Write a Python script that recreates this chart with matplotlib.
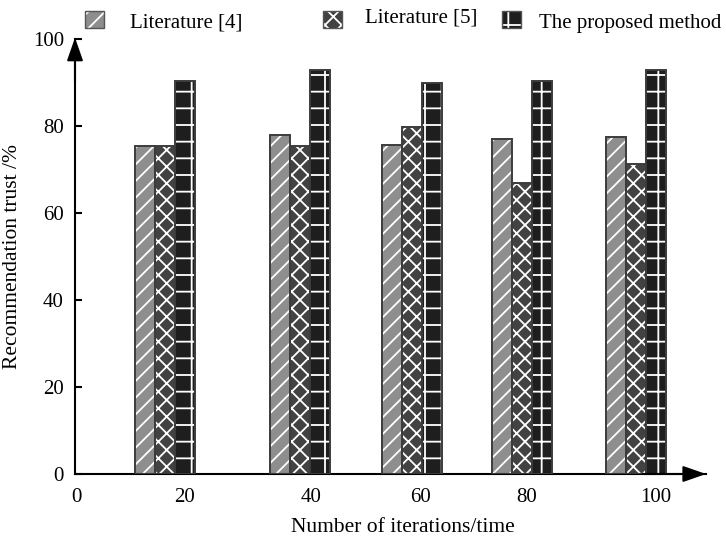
import matplotlib
matplotlib.use("Agg")
import matplotlib.pyplot as plt
from matplotlib.patches import Rectangle

plt.rcParams['font.family'] = ['Liberation Serif', 'DejaVu Serif']
plt.rcParams['hatch.color'] = 'white'
plt.rcParams['hatch.linewidth'] = 1.3

# ---- data ----
iterations = [20, 40, 60, 80, 100]
series_names = ['Literature [4]', 'Literature [5]', 'The proposed method']
lit4 = [75.5, 78.0, 75.6, 76.9, 77.5]
lit5 = [75.5, 75.5, 79.8, 67.0, 71.3]
proposed = [90.4, 92.9, 89.8, 90.3, 92.9]
x_tick_labels = ['0', '20', '40', '60', '80', '100']
y_ticks = [0, 20, 40, 60, 80, 100]

# ---- layout (axis units) ----
group_centers = [15.5, 38.7, 58.0, 76.9, 96.6]
x_tick_pos = [0.2, 18.8, 40.6, 59.4, 77.8, 100]
bar_w = 3.44
face_colors = ['#8e8e8e', '#424242', '#1e1e1e']
hatches = ['//', 'xx', '+']
edge_color = '#3c3c3c'

W, H = 726, 538
fig = plt.figure(figsize=(W / 100, H / 100), dpi=100)
ax = fig.add_axes([75 / W, 64 / H, 631 / W, 435 / H])

series = [lit4, lit5, proposed]
offsets = [-bar_w, 0, bar_w]
for vals, off, fc, h in zip(series, offsets, face_colors, hatches):
    xs = [c + off for c in group_centers]
    ax.bar(xs, vals, width=bar_w, color=fc, hatch=h, linewidth=0, zorder=2)
    ax.bar(xs, vals, width=bar_w, fill=False, edgecolor=edge_color, linewidth=1.4, zorder=3)

ax.set_xlim(0, 108.6)
ax.set_ylim(0, 100)
for s in ['top', 'right']:
    ax.spines[s].set_visible(False)
for s in ['left', 'bottom']:
    ax.spines[s].set_linewidth(1.5)
    ax.spines[s].set_color('black')

ax.set_xticks(x_tick_pos)
ax.set_xticklabels(x_tick_labels)
ax.set_yticks(y_ticks)
ax.tick_params(axis='x', length=0, pad=10, labelsize=15)
ax.tick_params(axis='y', direction='in', length=5, width=1.5, pad=8, labelsize=15)

# arrow heads
arrow = dict(arrowstyle='-|>,head_length=1.0,head_width=0.35', mutation_scale=14,
             color='black', lw=1.5, shrinkA=0, shrinkB=0)
ax.annotate('', xy=(1, 0), xytext=(0.9, 0), xycoords='axes fraction', arrowprops=arrow)
ax.annotate('', xy=(0, 1.003), xytext=(0, 0.9), xycoords='axes fraction', arrowprops=arrow)

ax.set_xlabel('Number of iterations/time', fontsize=15.5)
ax.xaxis.set_label_coords(0.52, -0.1)
ax.set_ylabel('Recommendation trust /%', fontsize=15.5, labelpad=8)

# legend entries (figure pixel layout: box x, text x, text baseline)
leg_layout = [(85, 130, 28), (323, 365, 22), (502, 539, 28)]
for name, fc, h, (bx, tx, ty) in zip(series_names, face_colors, hatches, leg_layout):
    r = Rectangle((bx / W, 1 - 28 / H), 19 / W, 17 / H, transform=fig.transFigure,
                  facecolor=fc, hatch=h, linewidth=0)
    fig.add_artist(r)
    fig.add_artist(Rectangle((bx / W, 1 - 28 / H), 19 / W, 17 / H, transform=fig.transFigure,
                             fill=False, edgecolor='#555555', linewidth=1.0))
    fig.text(tx / W, 1 - ty / H, name, fontsize=15, va='baseline', ha='left')

fig.savefig('out.png', dpi=100)
